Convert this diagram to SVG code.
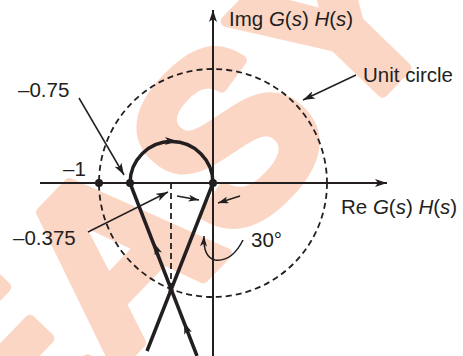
<svg xmlns="http://www.w3.org/2000/svg" width="463" height="356" viewBox="0 0 463 356">
<defs>
<marker id="ah" viewBox="0 0 12 8" refX="12" refY="4" markerWidth="12" markerHeight="8" markerUnits="userSpaceOnUse" orient="auto"><path d="M0,0 L12,4 L0,8 L3,4 Z" fill="#231f20"/></marker>
<marker id="ahs" viewBox="0 0 12 8" refX="12" refY="4" markerWidth="11" markerHeight="7" markerUnits="userSpaceOnUse" orient="auto"><path d="M0,0 L12,4 L0,8 L3,4 Z" fill="#231f20"/></marker>
</defs>
<style>
.t{font-family:"Liberation Sans",Arial,sans-serif;font-size:20.5px;fill:#231f20}
.i{font-style:italic}
.ax{stroke:#231f20;stroke-width:2;fill:none}
.th{stroke:#231f20;stroke-width:3.5;fill:none}
.ld{stroke:#231f20;stroke-width:1.5;fill:none}
.ds{stroke:#231f20;stroke-width:1.8;fill:none;stroke-dasharray:6 4}
.wm{font-family:"Liberation Sans",Arial,sans-serif;font-weight:bold;font-size:235px;fill:#fcd6c5;stroke:#fcd6c5;stroke-width:11;stroke-linejoin:round}
</style>
<rect width="463" height="356" fill="#fff"/>
<text class="wm" transform="translate(4,484) rotate(-46)">EASY</text>
<g id="connectors">
<path class="ax" d="M40,183 H387" marker-end="url(#ah)"/>
<path class="ax" d="M213,356 V10" marker-end="url(#ah)"/>
<circle class="ds" cx="213" cy="183" r="114"/>
<path class="ds" d="M171,183 V290"/>
<path class="th" d="M130,183 A41.5,41.5 0 0 1 213,183"/>
<path class="th" d="M130,183 L197,356"/>
<path class="th" d="M213,183 L147,351"/>
<path class="ld" d="M165,141 L177,141" marker-end="url(#ah)"/>
<path class="ld" d="M158,253 L154,243" marker-end="url(#ah)"/>
<path class="ld" d="M188,333 L184,322" marker-end="url(#ah)"/>
<path class="ld" d="M79,98 L124,175" marker-end="url(#ah)"/>
<path class="ld" d="M356,75 L303,100" marker-end="url(#ah)"/>
<path class="ld" d="M88,232 L168,192" marker-end="url(#ah)"/>
<path class="ld" d="M177,196 L199,200" marker-end="url(#ahs)"/>
<path class="ld" d="M240,196 L218,203" marker-end="url(#ahs)"/>
<path class="ld" d="M243,240 Q232,262 215,260 Q203,257 204,236" marker-end="url(#ahs)"/>
</g>
<g id="node-m1"><circle cx="99" cy="183" r="4" fill="#231f20"/><text class="t" x="63" y="176">–1</text></g>
<g id="node-m075"><circle cx="130" cy="183" r="4" fill="#231f20"/><text class="t" x="18" y="97">–0.75</text></g>
<g id="node-origin"><circle cx="213" cy="183" r="4" fill="#231f20"/></g>
<g id="node-cross"><circle cx="171" cy="290" r="2.5" fill="#231f20"/></g>
<g id="label-m0375"><text class="t" x="13" y="245">–0.375</text></g>
<g id="label-unit"><text class="t" x="363" y="82">Unit circle</text></g>
<g id="label-img"><text class="t" x="229" y="26">Img <tspan class="i">G</tspan>(<tspan class="i">s</tspan>) <tspan class="i">H</tspan>(<tspan class="i">s</tspan>)</text></g>
<g id="label-re"><text class="t" x="341" y="214">Re <tspan class="i">G</tspan>(<tspan class="i">s</tspan>) <tspan class="i">H</tspan>(<tspan class="i">s</tspan>)</text></g>
<g id="label-30"><text class="t" x="251" y="247">30°</text></g>
</svg>
